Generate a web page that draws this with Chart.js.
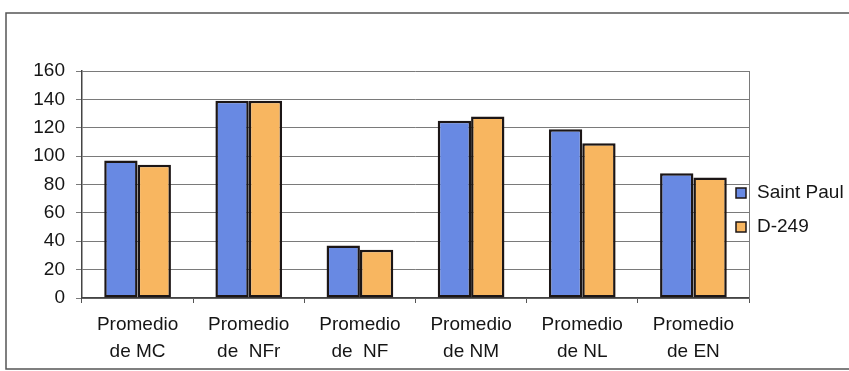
<!DOCTYPE html>
<html>
<head>
<meta charset="utf-8">
<script src="https://cdn.jsdelivr.net/npm/chart.js@4.4.1/dist/chart.umd.min.js"></script>
<style>
    html, body { margin: 0; padding: 0; background: #fff; }
    #chart { display: block; }
</style>
</head>
<body>
<canvas id="chart" width="849" height="371"></canvas>
<script>
// Averages per indicator, two groups
const categories = [
    ['Promedio', 'de MC'],
    ['Promedio', 'de  NFr'],
    ['Promedio', 'de  NF'],
    ['Promedio', 'de NM'],
    ['Promedio', 'de NL'],
    ['Promedio', 'de EN']
];
const seriesNames = ['Saint Paul', 'D-249'];
const saintPaul = [97, 139, 37, 125, 119, 88];
const d249 = [94, 139, 34, 128, 109, 85];
const yTicks = [0, 20, 40, 60, 80, 100, 120, 140, 160];

const FONT = '"Liberation Sans", Arial, sans-serif';
const edge = '#1c1616';

// Outer frame, plot frame and the side legend
const framePlugin = {
    id: 'frame',
    afterDraw(chart) {
        const ctx = chart.ctx;
        const area = chart.chartArea;
        ctx.save();
        ctx.strokeStyle = '#555';
        ctx.lineWidth = 1.5;
        ctx.strokeRect(6, 13, 900, 356);
        ctx.strokeStyle = '#7a7a7a';
        ctx.lineWidth = 1;
        ctx.beginPath();
        ctx.moveTo(Math.round(area.right) + 0.5, area.top);
        ctx.lineTo(Math.round(area.right) + 0.5, area.bottom);
        ctx.stroke();

        ctx.font = '19px ' + FONT;
        ctx.textBaseline = 'middle';
        chart.data.datasets.forEach((ds, i) => {
            const y = 193 + i * 34;
            ctx.fillStyle = ds.backgroundColor;
            ctx.fillRect(736, y - 5, 10, 10);
            ctx.strokeStyle = edge;
            ctx.lineWidth = 1.5;
            ctx.strokeRect(736, y - 5, 10, 10);
            ctx.fillStyle = '#151515';
            ctx.fillText(ds.label, 757, y);
        });
        ctx.restore();
    }
};

new Chart(document.getElementById('chart').getContext('2d'), {
    type: 'bar',
    data: {
        labels: categories,
        datasets: [{
            label: seriesNames[0],
            data: saintPaul,
            backgroundColor: '#6889e3',
            borderColor: edge,
            borderWidth: 2.5,
            borderSkipped: false
        }, {
            label: seriesNames[1],
            data: d249,
            backgroundColor: '#f8b660',
            borderColor: edge,
            borderWidth: 2.5,
            borderSkipped: false
        }]
    },
    options: {
        responsive: false,
        devicePixelRatio: 1,
        animation: false,
        layout: { padding: { left: 0, top: 71, right: 100, bottom: 0 } },
        datasets: {
            bar: { categoryPercentage: 0.6, barPercentage: 1.0 }
        },
        scales: {
            x: {
                grid: { drawOnChartArea: false, tickLength: 5, color: '#555' },
                border: { color: '#444', width: 1.5 },
                ticks: {
                    color: '#151515',
                    padding: 8,
                    maxRotation: 0,
                    autoSkip: false,
                    font: { family: FONT, size: 19, lineHeight: 1.42 }
                },
                afterFit(scale) { scale.height = 73; }
            },
            y: {
                min: 0,
                max: 160,
                afterBuildTicks(scale) {
                    scale.ticks = yTicks.map(v => ({ value: v }));
                },
                grid: { color: '#7a7a7a', tickLength: 6, lineWidth: 1 },
                border: { color: '#444', width: 1.5 },
                ticks: {
                    color: '#151515',
                    padding: 11,
                    font: { family: FONT, size: 19 }
                },
                afterFit(scale) { scale.width = 82; }
            }
        },
        plugins: {
            legend: { display: false },
            tooltip: { enabled: false }
        }
    },
    plugins: [framePlugin]
});
</script>
</body>
</html>
